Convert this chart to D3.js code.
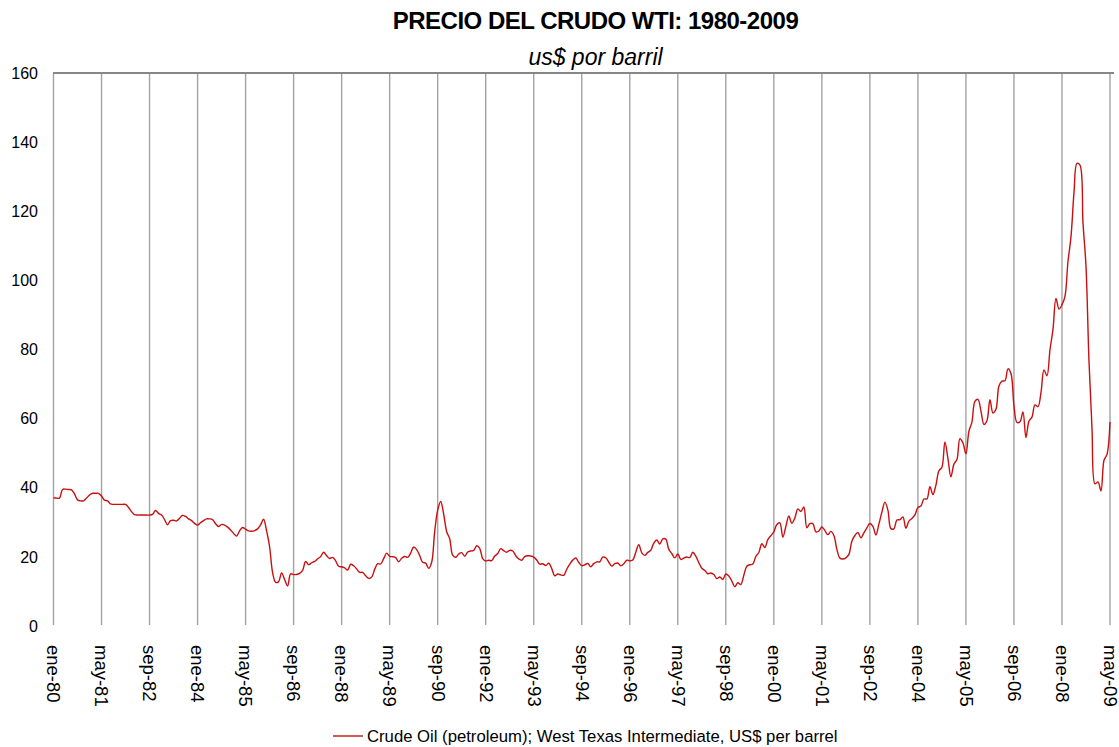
<!DOCTYPE html>
<html>
<head>
<meta charset="utf-8">
<script src="https://cdn.jsdelivr.net/npm/d3@7"></script>
<style>
  html, body { margin: 0; padding: 0; background: #fff; }
  svg { display: block; }
  text { font-family: "Liberation Sans", Arial, sans-serif; fill: #000; }
</style>
</head>
<body>
<svg id="chart" width="1119" height="747"></svg>
<script>
// Monthly WTI crude price (US$ per barrel), January 1980 to May 2009, one row per year
const startYear = 1980;
const p1980 = [37.1, 37.0, 37.0, 39.5, 39.6, 39.5, 39.4, 38.2, 36.5, 36.2, 36.2, 37.0];
const p1981 = [37.9, 38.4, 38.4, 38.4, 37.6, 36.4, 36.2, 35.3, 35.2, 35.2, 35.2, 35.2];
const p1982 = [35.2, 34.3, 33.1, 32.2, 32.1, 32.1, 32.1, 32.1, 32.1, 32.3, 33.4, 32.6];
const p1983 = [32.1, 30.8, 29.3, 30.5, 30.6, 30.4, 31.2, 32.0, 31.7, 31.0, 30.5, 29.7];
const p1984 = [29.2, 29.9, 30.5, 31.0, 31.0, 30.8, 29.6, 28.8, 29.4, 29.2, 28.6, 27.8];
const p1985 = [26.8, 26.0, 27.5, 28.5, 28.0, 27.5, 27.4, 27.6, 28.1, 29.3, 30.9, 27.5];
const p1986 = [22.93, 15.45, 12.61, 12.84, 15.38, 13.43, 11.59, 15.10, 14.87, 14.90, 15.22, 16.11];
const p1987 = [18.65, 17.75, 18.30, 18.68, 19.44, 20.07, 21.34, 20.31, 19.53, 19.86, 18.85, 17.28];
const p1988 = [17.13, 16.80, 16.20, 17.86, 17.42, 16.53, 15.50, 15.52, 14.54, 13.77, 14.14, 16.38];
const p1989 = [18.02, 17.94, 19.48, 21.07, 20.12, 20.05, 19.78, 18.58, 19.59, 20.10, 19.86, 21.10];
const p1990 = [22.86, 22.11, 20.39, 18.43, 18.20, 16.70, 18.45, 27.31, 33.51, 36.04, 32.33, 27.28];
const p1991 = [25.23, 20.48, 19.90, 20.83, 21.23, 20.19, 21.40, 21.69, 21.89, 23.23, 22.46, 19.50];
const p1992 = [18.79, 19.01, 18.92, 20.23, 20.98, 22.39, 21.78, 21.34, 21.88, 21.69, 20.34, 19.41];
const p1993 = [19.03, 20.09, 20.32, 20.25, 19.95, 19.09, 17.89, 18.01, 17.50, 18.15, 16.61, 14.52];
const p1994 = [15.03, 14.78, 14.68, 16.42, 17.89, 19.06, 19.66, 18.38, 17.45, 17.72, 18.07, 17.16];
const p1995 = [18.04, 18.57, 18.54, 19.90, 19.74, 18.45, 17.33, 18.02, 18.23, 17.43, 17.99, 19.03];
const p1996 = [18.85, 19.09, 21.33, 23.50, 21.17, 20.42, 21.30, 21.90, 23.97, 24.88, 23.71, 25.23];
const p1997 = [25.13, 22.18, 20.97, 19.70, 20.82, 19.26, 19.66, 19.95, 19.80, 21.33, 20.19, 18.33];
const p1998 = [16.72, 16.06, 15.12, 15.35, 14.91, 13.72, 14.17, 13.47, 15.03, 14.46, 13.00, 11.35];
const p1999 = [12.52, 12.01, 14.68, 17.31, 17.72, 17.92, 20.10, 21.28, 23.80, 22.69, 25.00, 26.10];
const p2000 = [27.26, 29.37, 29.84, 25.72, 28.79, 31.82, 29.70, 31.26, 33.88, 33.11, 34.42, 28.44];
const p2001 = [29.59, 29.61, 27.24, 27.49, 28.63, 27.60, 26.43, 27.37, 26.20, 22.17, 19.64, 19.39];
const p2002 = [19.72, 20.72, 24.53, 26.18, 27.04, 25.52, 26.97, 28.39, 29.66, 28.84, 26.35, 29.46];
const p2003 = [32.95, 35.83, 33.51, 28.17, 28.11, 30.66, 30.75, 31.57, 28.31, 30.34, 31.11, 32.13];
const p2004 = [34.31, 34.69, 36.74, 36.75, 40.28, 38.03, 40.78, 44.90, 45.94, 53.28, 48.47, 43.15];
const p2005 = [46.84, 48.15, 54.19, 52.98, 49.83, 56.35, 59.00, 64.99, 65.59, 62.26, 58.32, 59.41];
const p2006 = [65.49, 61.63, 62.69, 69.44, 70.84, 70.95, 74.41, 73.04, 63.80, 58.89, 59.08, 61.96];
const p2007 = [54.51, 59.28, 60.44, 63.98, 63.46, 67.49, 74.12, 72.36, 79.92, 85.80, 94.77, 91.69];
const p2008 = [92.97, 95.39, 105.45, 112.58, 125.40, 133.88, 133.37, 116.67, 104.11, 76.61, 57.31, 41.12];
const p2009 = [41.71, 39.09, 47.94, 49.65, 59.03];

const years = [p1980, p1981, p1982, p1983, p1984, p1985, p1986, p1987, p1988, p1989,
               p1990, p1991, p1992, p1993, p1994, p1995, p1996, p1997, p1998, p1999,
               p2000, p2001, p2002, p2003, p2004, p2005, p2006, p2007, p2008, p2009];

// Category labels shown every 16 months
const monthNames = ["ene", "feb", "mar", "abr", "may", "jun", "jul", "ago", "sep", "oct", "nov", "dic"];
const tickStep = 16;
const yTicks = [0, 20, 40, 60, 80, 100, 120, 140, 160];

const title = "PRECIO DEL CRUDO WTI: 1980-2009";
const subtitle = "us$ por barril";
const seriesName = "Crude Oil (petroleum); West Texas Intermediate, US$ per barrel";

// Flatten into a month-indexed series
const series = [];
years.forEach((arr, yi) => arr.forEach((v, mi) => series.push({ i: yi * 12 + mi, year: startYear + yi, month: mi, value: v })));
const lastIndex = series.length - 1;

const svg = d3.select("#chart");
const plotLeft = 53.5, plotRight = 1110, plotTop = 73, plotBottom = 626;

const x = d3.scaleLinear().domain([0, lastIndex]).range([plotLeft, plotRight]);
const y = d3.scaleLinear().domain([0, 160]).range([plotBottom, plotTop]);

const tickIdx = d3.range(0, lastIndex + 1, tickStep);
const tickLabel = i => {
  const d = series[i];
  return monthNames[d.month] + "-" + String(d.year % 100).padStart(2, "0");
};

// Vertical gridlines at each labelled category
svg.append("g")
  .selectAll("line")
  .data(tickIdx)
  .join("line")
  .attr("x1", d => x(d)).attr("x2", d => x(d))
  .attr("y1", plotTop).attr("y2", plotBottom - 1)
  .attr("stroke", "#a3a3a3")
  .attr("stroke-width", 1.4);

// Top border of the plot area
svg.append("line")
  .attr("x1", plotLeft - 0.5).attr("x2", plotRight + 4)
  .attr("y1", plotTop).attr("y2", plotTop)
  .attr("stroke", "#878787")
  .attr("stroke-width", 2);

// Y axis labels
const yAxis = d3.axisLeft(y).tickValues(yTicks).tickSize(0).tickPadding(0);
const gy = svg.append("g").attr("transform", `translate(38,0)`).call(yAxis);
gy.select(".domain").remove();
gy.selectAll("text").attr("font-size", 16).attr("font-family", "Liberation Sans, Arial, sans-serif").attr("fill", "#000");

// X axis labels, rotated to read downward
const xAxis = d3.axisBottom(x).tickValues(tickIdx).tickFormat(tickLabel).tickSize(0).tickPadding(0);
const gx = svg.append("g").attr("transform", `translate(0,${plotBottom})`).call(xAxis);
gx.select(".domain").remove();
gx.selectAll("text")
  .attr("font-size", 18.5)
  .attr("font-family", "Liberation Sans, Arial, sans-serif")
  .attr("fill", "#000")
  .attr("text-anchor", "start")
  .attr("y", 0)
  .attr("dy", "0.36em")
  .attr("transform", "translate(0,19) rotate(90)");

// Price line
const line = d3.line()
  .x(d => x(d.i))
  .y(d => y(d.value))
  .curve(d3.curveCatmullRom.alpha(0.5));

svg.append("path")
  .datum(series)
  .attr("fill", "none")
  .attr("stroke", "#c81010")
  .attr("stroke-width", 1.4)
  .attr("d", line);

// Titles
svg.append("text")
  .attr("x", 595.5).attr("y", 29)
  .attr("text-anchor", "middle")
  .attr("font-size", 24).attr("font-weight", "bold")
  .attr("letter-spacing", "-0.5")
  .text(title);

svg.append("text")
  .attr("x", 595.5).attr("y", 65)
  .attr("text-anchor", "middle")
  .attr("font-size", 23).attr("font-style", "italic")
  .text(subtitle);

// Legend
const lg = svg.append("g").attr("transform", "translate(333,736)");
lg.append("line").attr("x1", 0).attr("x2", 30).attr("y1", 0).attr("y2", 0)
  .attr("stroke", "#c81010").attr("stroke-width", 1.4);
lg.append("text").attr("x", 34).attr("y", 0).attr("dy", "0.35em")
  .attr("font-size", 16.7).text(seriesName);
</script>
</body>
</html>
